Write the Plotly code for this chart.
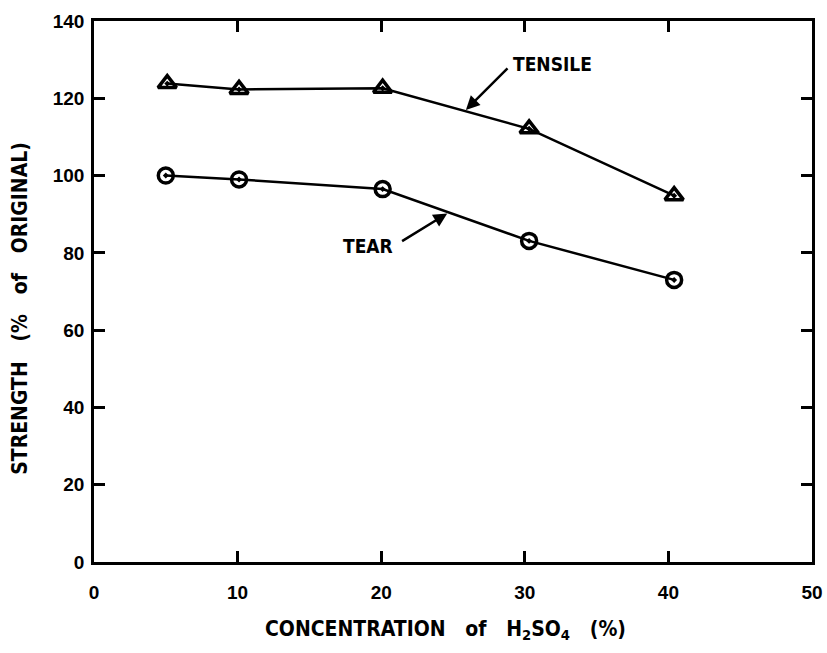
import plotly.graph_objects as go

# Data
conc_tensile = [5.1, 10.1, 20.1, 30.3, 40.4]
tensile = [123.8, 122.3, 122.6, 112.1, 94.8]
conc_tear = [5.0, 10.1, 20.1, 30.3, 40.4]
tear = [100.0, 99.0, 96.5, 83.1, 73.0]

x_ticks = [0, 10, 20, 30, 40, 50]
y_ticks = [0, 20, 40, 60, 80, 100, 120, 140]

FONT = "Liberation Sans Narrow, DejaVu Sans Condensed, Arial Narrow, sans-serif"
TICKFONT = "Liberation Sans, Arial, sans-serif"

fig = go.Figure()
fig.add_trace(go.Scatter(
    x=conc_tensile, y=tensile, mode="lines+markers", name="TENSILE",
    line=dict(color="black", width=2.5),
    marker=dict(symbol="triangle-up-open-dot", size=16, color="black",
                line=dict(width=3.5, color="black")),
))
fig.add_trace(go.Scatter(
    x=conc_tear, y=tear, mode="lines+markers", name="TEAR",
    line=dict(color="black", width=2.5),
    marker=dict(symbol="circle-open-dot", size=15, color="black",
                line=dict(width=3.5, color="black")),
))

# Labels with arrows
fig.add_annotation(x=25.9, y=117.0, ax=28.9, ay=128.1, xref="x", yref="y",
                   axref="x", ayref="y", text="", showarrow=True,
                   arrowhead=2, arrowsize=1.1, arrowwidth=2.5, arrowcolor="black")
fig.add_annotation(x=31.9, y=128.9, xref="x", yref="y", text="<b>TENSILE</b>",
                   showarrow=False, font=dict(family=FONT, size=19, color="black"))
fig.add_annotation(x=24.6, y=90.2, ax=21.35, ay=82.8, xref="x", yref="y",
                   axref="x", ayref="y", text="", showarrow=True,
                   arrowhead=2, arrowsize=1.1, arrowwidth=2.5, arrowcolor="black")
fig.add_annotation(x=19.05, y=81.8, xref="x", yref="y", text="<b>TEAR</b>",
                   showarrow=False, font=dict(family=FONT, size=19, color="black"))

# Axis titles
fig.add_annotation(x=-0.103, y=0.468, xref="paper", yref="paper", textangle=-90,
                   xanchor="center", yanchor="middle",
                   text="<b>STRENGTH   (%   of   ORIGINAL)</b>", showarrow=False,
                   font=dict(family=FONT, size=21, color="black"))
fig.add_annotation(x=0.490, y=-0.1257, xref="paper", yref="paper",
                   xanchor="center", yanchor="middle",
                   text="<b>CONCENTRATION   of   H<sub>2</sub>SO<sub>4</sub>   (%)</b>",
                   showarrow=False, font=dict(family=FONT, size=21, color="black"))

axis_common = dict(
    showgrid=False, zeroline=False, showline=True, linecolor="black", linewidth=2.5,
    mirror="ticks", ticks="inside", ticklen=11, tickwidth=2.5, tickcolor="black",
    tickfont=dict(family=TICKFONT, size=19, color="black", weight="bold"),
)

fig.update_xaxes(
    range=[0, 50], tickvals=x_ticks, ticktext=[str(v) for v in x_ticks],
    ticklabelstandoff=11, **axis_common,
)
fig.update_yaxes(
    range=[0, 140], tickvals=y_ticks, ticktext=[str(v) for v in y_ticks],
    ticklabelstandoff=3, **axis_common,
)

fig.update_layout(
    width=827, height=653, showlegend=False,
    paper_bgcolor="white", plot_bgcolor="white",
    margin=dict(l=94, r=15, t=21, b=91, autoexpand=False),
)

fig.write_html("out.html")
